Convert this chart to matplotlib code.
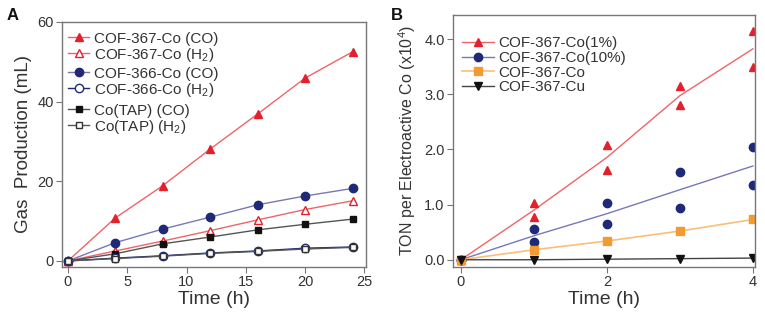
import matplotlib.pyplot as plt
import numpy as np

plt.rcParams['font.family'] = ['Liberation Sans', 'DejaVu Sans']
plt.rcParams['mathtext.fontset'] = 'custom'
plt.rcParams['mathtext.rm'] = 'Liberation Sans'

# Panel A data (gas production in mL)
time_a = [0, 4, 8, 12, 16, 20, 24]
cof367_co = [0, 10.8, 18.9, 28.1, 36.9, 45.9, 52.5]
cof367_h2 = [0, 2.5, 5.0, 7.6, 10.3, 12.9, 15.1]
cof366_co = [0, 4.6, 8.0, 11.0, 14.1, 16.3, 18.2]
cof366_h2 = [0, 0.7, 1.3, 2.0, 2.5, 3.2, 3.5]
cotap_co = [0, 1.8, 4.3, 6.0, 7.8, 9.2, 10.5]
cotap_h2 = [0, 0.6, 1.2, 1.9, 2.4, 3.0, 3.4]

# Panel B data (TON x10^4), two runs per time point
time_b = [0, 1, 2, 3, 4]
ton_1pct_a = [0, 1.02, 2.08, 3.15, 4.15]
ton_1pct_b = [0, 0.78, 1.63, 2.80, 3.50]
ton_10pct_a = [0, 0.55, 1.02, 1.60, 2.05]
ton_10pct_b = [0, 0.32, 0.65, 0.94, 1.35]
ton_367co = [0, 0.18, 0.34, 0.52, 0.73]
ton_367cu = [0, 0.0, 0.01, 0.02, 0.03]

red = '#e3202b'
red_line = '#f06468'
blue = '#1e2a78'
blue_line = '#7878b8'
orange = '#f39a30'
orange_line = '#f8bf78'
black = '#111111'
text_c = '#333333'
spine_c = '#777777'

fig = plt.figure(figsize=(7.65, 3.17), dpi=100)
ax1 = fig.add_axes([0.081, 0.158, 0.397, 0.773])
ax2 = fig.add_axes([0.592, 0.158, 0.395, 0.795])

for ax in (ax1, ax2):
    for s in ax.spines.values():
        s.set_color(spine_c)
        s.set_linewidth(1.0)
    ax.tick_params(direction='out', length=4, color=spine_c, labelcolor=text_c, labelsize=10.5, pad=2)

# --- Panel A ---
ms = 6
l1, = ax1.plot(time_a, cof367_co, '-^', color=red_line, mfc=red, mec=red, ms=ms, lw=1)
l2, = ax1.plot(time_a, cof367_h2, '-^', color=red_line, mfc='white', mec=red, ms=ms, lw=1)
l3, = ax1.plot(time_a, cof366_co, '-o', color=blue_line, mfc=blue, mec=blue, ms=ms, lw=1)
l5, = ax1.plot(time_a, cotap_co, '-s', color='#555555', mfc=black, mec=black, ms=5, lw=1)
l4, = ax1.plot(time_a, cof366_h2, '-o', color=blue, mfc='white', mec=blue, ms=ms, lw=1)
l6, = ax1.plot(time_a, cotap_h2, '-s', color='#555555', mfc='white', mec='#333333', ms=5, lw=1)

ax1.set_xlim(-0.5, 25.1)
ax1.set_ylim(-1.5, 60)
ax1.set_xticks([0, 5, 10, 15, 20, 25])
ax1.set_yticks([0, 20, 40, 60])
ax1.set_xlabel('Time (h)', fontsize=14, color=text_c, labelpad=1)
ax1.set_ylabel('Gas  Production (mL)', fontsize=13.5, color=text_c, labelpad=4)

leg_kw = dict(frameon=False, fontsize=11, handlelength=1.4, handletextpad=0.3,
              borderaxespad=0, labelspacing=0.0, labelcolor=text_c)
lg1 = ax1.legend([l1, l2], ['COF-367-Co (CO)', 'COF-367-Co (H$_2$)'],
                 loc='upper left', bbox_to_anchor=(0.0, 0.985), **leg_kw)
ax1.add_artist(lg1)
lg2 = ax1.legend([l3, l4], ['COF-366-Co (CO)', 'COF-366-Co (H$_2$)'],
                 loc='upper left', bbox_to_anchor=(0.0, 0.842), **leg_kw)
ax1.add_artist(lg2)
ax1.legend([l5, l6], ['Co(TAP) (CO)', 'Co(TAP) (H$_2$)'],
           loc='upper left', bbox_to_anchor=(0.0, 0.691), **leg_kw)

# --- Panel B ---
mean_1 = (np.array(ton_1pct_a) + np.array(ton_1pct_b)) / 2
mean_10 = (np.array(ton_10pct_a) + np.array(ton_10pct_b)) / 2

ax2.plot(time_b, mean_1, '-', color=red_line, lw=1)
ax2.plot(time_b, mean_10, '-', color=blue_line, lw=1)
ax2.plot(time_b, ton_367co, '-', color=orange_line, lw=1.2)
ax2.plot(time_b, ton_367cu, '-', color='#444444', lw=1)
ax2.plot(time_b, ton_1pct_a, '^', color=red, ms=ms, ls='none')
ax2.plot(time_b, ton_1pct_b, '^', color=red, ms=ms, ls='none')
ax2.plot(time_b, ton_10pct_a, 'o', color=blue, ms=ms, ls='none')
ax2.plot(time_b, ton_10pct_b, 'o', color=blue, ms=ms, ls='none')
ax2.plot(time_b, ton_367co, 's', color=orange, ms=ms, ls='none')
ax2.plot(time_b, ton_367cu, 'v', color=black, ms=ms, ls='none')

h1, = ax2.plot([], [], '-^', color=red_line, mfc=red, mec=red, ms=ms, lw=1)
h2, = ax2.plot([], [], '-o', color=blue_line, mfc=blue, mec=blue, ms=ms, lw=1)
h3, = ax2.plot([], [], '-s', color=orange_line, mfc=orange, mec=orange, ms=ms, lw=1.2)
h4, = ax2.plot([], [], '-v', color='#444444', mfc=black, mec=black, ms=ms, lw=1)
ax2.legend([h1, h2, h3, h4], ['COF-367-Co(1%)', 'COF-367-Co(10%)', 'COF-367-Co', 'COF-367-Cu'],
           loc='upper left', bbox_to_anchor=(0.01, 0.94), frameon=False, fontsize=11,
           handlelength=2.1, handletextpad=0.3, borderaxespad=0, labelspacing=0.05,
           labelcolor=text_c)

ax2.set_xlim(-0.11, 4.03)
ax2.set_ylim(-0.13, 4.44)
ax2.set_xticks([0, 2, 4])
ax2.set_yticks([0, 1, 2, 3, 4])
ax2.set_yticklabels(['0.0', '1.0', '2.0', '3.0', '4.0'])
ax2.set_xlabel('Time (h)', fontsize=14, color=text_c, labelpad=1)
ax2.set_ylabel('TON per Electroactive Co (x10$^4$)', fontsize=11.5, color=text_c, labelpad=4)

fig.text(0.008, 0.975, 'A', fontsize=12, fontweight='bold', va='top', color='#111111')
fig.text(0.511, 0.975, 'B', fontsize=12, fontweight='bold', va='top', color='#111111')

fig.savefig('out.png', dpi=100)
